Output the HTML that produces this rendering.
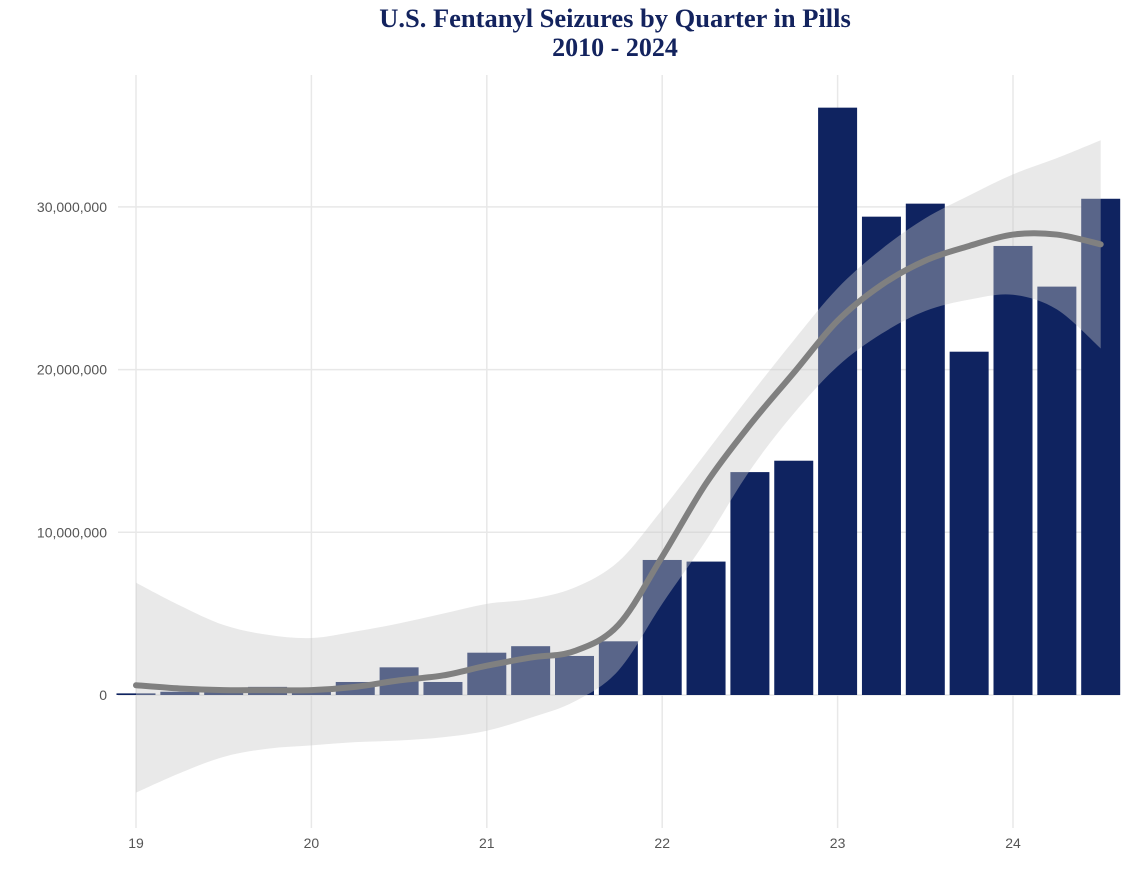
<!DOCTYPE html>
<html><head><meta charset="utf-8"><style>
body{margin:0;background:#fff;}
svg{display:block;}
</style></head><body>
<svg id="chart" width="1130" height="879" viewBox="0 0 1130 879">
<text x="615" y="27" text-anchor="middle" font-family="Liberation Serif, serif" font-weight="bold" font-size="26.5" fill="#13235e">U.S. Fentanyl Seizures by Quarter in Pills</text>
<text x="615" y="56" text-anchor="middle" font-family="Liberation Serif, serif" font-weight="bold" font-size="26" fill="#13235e">2010 - 2024</text>
<g id="grid"></g><g id="bars"></g><g id="band"></g><g id="line"></g><g id="axes"></g>
</svg>
<script>
const quarters=[0,1,2,3,4,5,6,7,8,9,10,11,12,13,14,15,16,17,18,19,20,21,22];
const seizures=[0.1,0.2,0.4,0.5,0.4,0.8,1.7,0.8,2.6,3.0,2.4,3.3,8.3,8.2,13.7,14.4,36.1,29.4,30.2,21.1,27.6,25.1,30.5];
const trend=[0.6,0.4,0.3,0.3,0.3,0.5,0.9,1.2,1.8,2.3,2.7,4.3,8.5,13.0,16.6,19.8,23.0,25.2,26.7,27.6,28.3,28.3,27.7];
const upper=[6.9,5.5,4.3,3.7,3.5,3.9,4.4,5.0,5.6,5.9,6.6,8.2,11.4,14.9,18.4,21.8,25.0,27.4,29.3,30.7,32.0,33.0,34.1];
const lower=[-6.0,-4.8,-3.8,-3.3,-3.1,-2.9,-2.8,-2.6,-2.2,-1.4,-0.4,1.5,5.6,9.5,13.8,17.3,20.2,22.2,23.6,24.3,24.6,23.7,21.3];
const yTicks=[0,10,20,30];
const yTickLabels=["0","10,000,000","20,000,000","30,000,000"];
const xTicks=[0,4,8,12,16,20];
const xTickLabels=["19","20","21","22","23","24"];
const NS="http://www.w3.org/2000/svg";
const xs=q=>136+q*43.85;
const ys=v=>695-v*16.27;
function mk(tag,attrs,parent){const e=document.createElementNS(NS,tag);for(const k in attrs)e.setAttribute(k,attrs[k]);document.getElementById(parent).appendChild(e);return e;}
yTicks.forEach((t,i)=>{
 const g=mk('line',{x1:118,x2:1120,y1:ys(t),y2:ys(t),stroke:'#e8e8e8','stroke-width':1.5},'grid');
 
 
 const l=mk('text',{x:107,y:ys(t)+5,'text-anchor':'end','font-family':'Liberation Sans, sans-serif','font-size':14,fill:'#555'},'axes');
 l.textContent=yTickLabels[i];
 
 
});
xTicks.forEach((t,i)=>{
 const g=mk('line',{x1:xs(t),x2:xs(t),y1:75,y2:828,stroke:'#e8e8e8','stroke-width':1.5},'grid');
 
 
 const l=mk('text',{x:xs(t),y:848,'text-anchor':'middle','font-family':'Liberation Sans, sans-serif','font-size':14,fill:'#555'},'axes');
 l.textContent=xTickLabels[i];
 
 
});
quarters.forEach((q,i)=>{
 const v=seizures[i];
 const b=mk('rect',{x:xs(q)-19.5,y:ys(v),width:39,height:Math.max(1.5,ys(0)-ys(v)),fill:'#0f2360'},'bars');
 
 
});
function smooth(pts){let d='M'+pts[0][0]+','+pts[0][1];for(let i=0;i<pts.length-1;i++){const p0=pts[i-1]||pts[i],p1=pts[i],p2=pts[i+1],p3=pts[i+2]||p2;d+=' C'+(p1[0]+(p2[0]-p0[0])/6)+','+(p1[1]+(p2[1]-p0[1])/6)+' '+(p2[0]-(p3[0]-p1[0])/6)+','+(p2[1]-(p3[1]-p1[1])/6)+' '+p2[0]+','+p2[1];}return d;}
const up=quarters.map((q,i)=>[xs(q),ys(upper[i])]);
const lo=quarters.map((q,i)=>[xs(q),ys(lower[i])]).reverse();
const bandD=smooth(up)+' L'+lo[0][0]+','+lo[0][1]+smooth(lo).slice(1).replace(/^[^C]*/,'')+' Z';
const band=mk('path',{d:bandD,fill:'rgba(200,200,200,0.4)'},'band');


const ln=mk('path',{d:smooth(quarters.map((q,i)=>[xs(q),ys(trend[i])])),fill:'none',stroke:'#808080','stroke-width':6,'stroke-linecap':'round'},'line');


</script>
</body></html>
